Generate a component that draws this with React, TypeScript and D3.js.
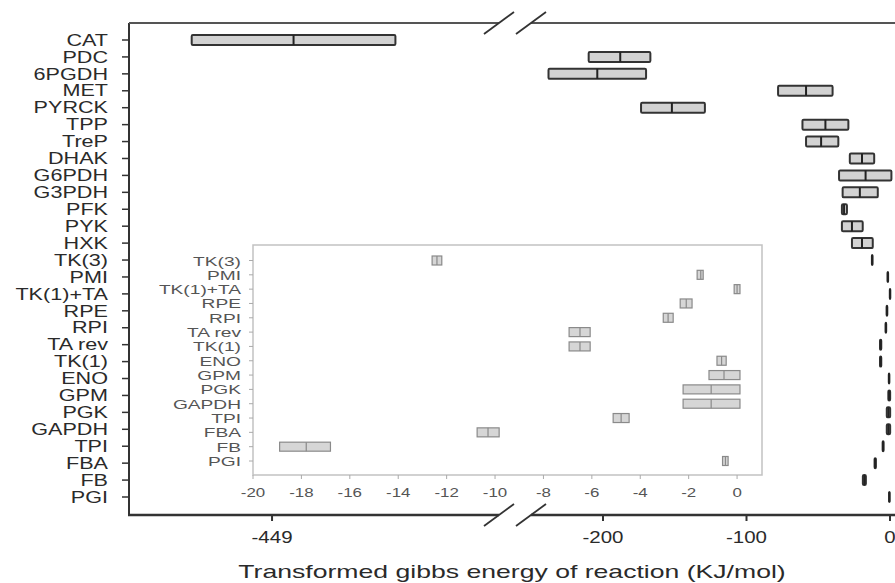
import React from 'react';
import * as d3 from 'd3';

const reactions = ["CAT","PDC","6PGDH","MET","PYRCK","TPP","TreP","DHAK","G6PDH","G3PDH","PFK","PYK","HXK","TK(3)","PMI","TK(1)+TA","RPE","RPI","TA rev","TK(1)","ENO","GPM","PGK","GAPDH","TPI","FBA","FB","PGI"];
const lowValues =    [-505, -210, -238, -78, -173.5, -61, -58.5, -28, -35.5, -33, -33.5, -33.5, -26.5, -12.6, -1.65, -0.12, -2.35, -3.05, -6.94, -6.94, -0.83, -1.16, -2.23, -2.23, -5.12, -10.74, -18.9, -0.6];
const medianValues = [-434, -188, -204, -58.5, -152, -45, -48, -19.5, -17, -21, -32, -26.5, -19.5, -12.4, -1.5, 0, -2.1, -2.85, -6.49, -6.49, -0.64, -0.54, -1.07, -1.07, -4.79, -10.29, -17.8, -0.48];
const highValues =   [-363, -167, -170, -40, -129, -29, -36, -11, 1, -8.5, -30, -19, -12, -12.2, -1.4, 0.12, -1.86, -2.64, -6.07, -6.07, -0.45, 0.12, 0.12, 0.12, -4.46, -9.83, -16.8, -0.37];
const insetReactions = reactions.slice(13);
const mainTicks = [-449, -200, -100, 0];
const insetTicks = [-20, -18, -16, -14, -12, -10, -8, -6, -4, -2, 0];
const axisTitle = "Transformed gibbs energy of reaction (KJ/mol)";

const FONT = "'Liberation Sans', Arial, Helvetica, sans-serif";

export default function App() {
  const W = 895, H = 583;
  const left = 129, top = 23, bottom = 515, breakL = 499, breakR = 531;
  const xLeft = d3.scaleLinear().domain([-548.7, -290.8]).range([left, breakL]);
  const xRight = d3.scaleLinear().domain([-250.2, 3.5]).range([breakR, W]);
  const xMain = (v: number) => (v < -270 ? xLeft(v) : xRight(v));
  const yMain = d3.scalePoint<string>().domain(reactions).range([40, 497]);

  const inX0 = 253, inX1 = 762, inY0 = 245, inY1 = 475;
  const xIn = d3.scaleLinear().domain([-20, 1.03]).range([inX0, inX1]);
  const yIn = d3.scalePoint<string>().domain(insetReactions).range([260.5, 461]);

  const data = reactions.map((r, i) => ({ r, lo: lowValues[i], med: medianValues[i], hi: highValues[i] }));
  const insetData = data.filter(d => insetReactions.includes(d.r));

  const slash = (cx: number, cy: number, k: string) => (
    <line key={k} x1={cx - 15} y1={cy + 11} x2={cx + 15} y2={cy - 11} stroke="#333" strokeWidth={1.8} />
  );

  return (
    <svg width={W} height={H} style={{ position: 'absolute', left: 0, top: 0, background: '#fff' }} fontFamily={FONT}>
      <rect x={0} y={0} width={W} height={H} fill="#fff" />
      {/* main frame */}
      <line x1={left} y1={top} x2={left} y2={bottom} stroke="#333" strokeWidth={2} />
      <line x1={left} y1={top} x2={breakL} y2={top} stroke="#555" strokeWidth={2} />
      <line x1={breakR} y1={top} x2={W} y2={top} stroke="#555" strokeWidth={2} />
      <line x1={left - 1} y1={bottom} x2={breakL} y2={bottom} stroke="#333" strokeWidth={2.5} />
      <line x1={breakR} y1={bottom} x2={W} y2={bottom} stroke="#333" strokeWidth={2.5} />
      {slash(breakL, top, 's1')}{slash(breakR, top, 's2')}
      {slash(breakL, bottom, 's3')}{slash(breakR, bottom, 's4')}

      {/* main y labels */}
      {reactions.map(r => (
        <g key={r}>
          <line x1={122} x2={left} y1={yMain(r)} y2={yMain(r)} stroke="#333" strokeWidth={1.5} />
          <text transform={`translate(108,${(yMain(r) as number) + 5.7}) scale(1.35,1)`} textAnchor="end" fontSize={16} fill="#2a2a2a">{r}</text>
        </g>
      ))}

      {/* main x ticks */}
      {mainTicks.map(t => (
        <g key={t}>
          <line x1={xMain(t)} x2={xMain(t)} y1={bottom} y2={bottom + 6} stroke="#333" strokeWidth={2} />
          <text transform={`translate(${xMain(t)},543) scale(1.28,1)`} textAnchor="middle" fontSize={16} fill="#2a2a2a">{t}</text>
        </g>
      ))}
      <text transform={`translate(512,578) scale(1.4,1)`} textAnchor="middle" fontSize={19} fill="#2a2a2a">{axisTitle}</text>

      {/* main boxes */}
      {data.map(d => {
        const y = yMain(d.r) as number;
        const x0 = xMain(d.lo), x1 = xMain(d.hi), xm = xMain(d.med);
        return (
          <g key={d.r}>
            <rect x={x0} y={y - 5} width={Math.max(x1 - x0, 0.5)} height={10} rx={1.2} fill="#d2d2d2" stroke="#333" strokeWidth={2} />
            <line x1={xm} x2={xm} y1={y - 5} y2={y + 5} stroke="#222" strokeWidth={2} />
          </g>
        );
      })}

      {/* inset */}
      <rect x={inX0} y={inY0} width={inX1 - inX0} height={inY1 - inY0} fill="#fff" stroke="#c2c2c2" strokeWidth={1.5} />
      {insetReactions.map(r => (
        <g key={'i' + r}>
          <line x1={inX0 - 4} x2={inX0} y1={yIn(r)} y2={yIn(r)} stroke="#aaa" strokeWidth={1} />
          <text transform={`translate(241,${(yIn(r) as number) + 5}) scale(1.42,1)`} textAnchor="end" fontSize={13.5} fill="#555">{r}</text>
        </g>
      ))}
      {insetTicks.map(t => (
        <g key={'it' + t}>
          <line x1={xIn(t)} x2={xIn(t)} y1={inY1} y2={inY1 + 4} stroke="#aaa" strokeWidth={1} />
          <text transform={`translate(${xIn(t)},497) scale(1.3,1)`} textAnchor="middle" fontSize={13} fill="#555">{t}</text>
        </g>
      ))}
      {insetData.map(d => {
        const y = yIn(d.r) as number;
        const x0 = xIn(d.lo), x1 = xIn(d.hi), xm = xIn(d.med);
        return (
          <g key={'ib' + d.r}>
            <rect x={x0} y={y - 4.5} width={x1 - x0} height={9} fill="#d6d6d6" stroke="#8a8a8a" strokeWidth={1.2} />
            <line x1={xm} x2={xm} y1={y - 4.5} y2={y + 4.5} stroke="#8a8a8a" strokeWidth={1.2} />
          </g>
        );
      })}
    </svg>
  );
}
